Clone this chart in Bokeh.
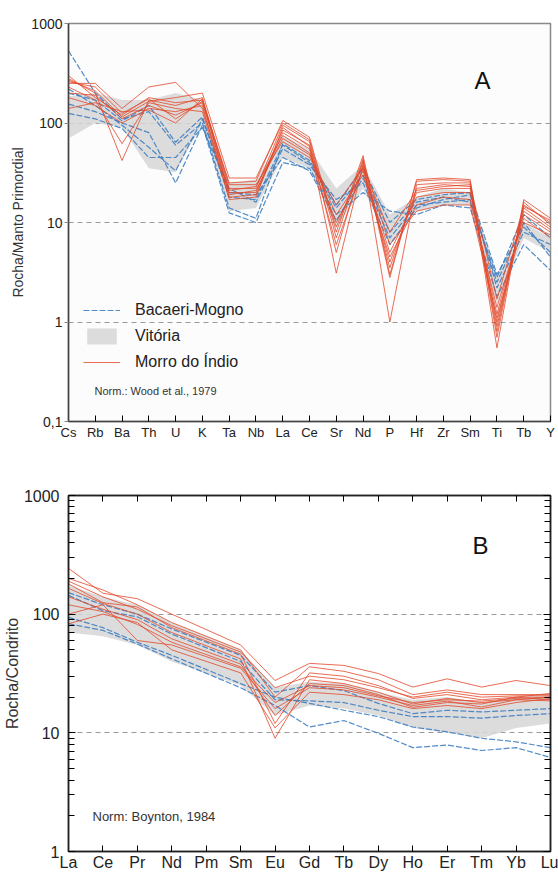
from bokeh.plotting import figure
from bokeh.models import FixedTicker, Label, Legend, LegendItem, LogAxis, LinearAxis
from bokeh.layouts import column
from bokeh.embed import file_html
from bokeh.resources import INLINE

FONT = "Liberation Sans"

# ---------------- Panel A: spider diagram (primitive mantle) ----------------
spider_elements = ["Cs", "Rb", "Ba", "Th", "U", "K", "Ta", "Nb", "La", "Ce",
                   "Sr", "Nd", "P", "Hf", "Zr", "Sm", "Ti", "Tb", "Y"]

vitoria_a_low = [70, 100, 90, 35, 32, 100, 13, 14, 45, 35, 9, 22, 6, 13, 15, 15, 1.5, 7, 5]
vitoria_a_high = [185, 200, 170, 170, 200, 170, 25, 27, 75, 55, 22, 38, 12, 18, 22, 20, 3.0, 10, 7]

bacaeri_a = [
    [530, 200, 110, 130, 60, 100, 14, 11, 62, 42, 15, 35, 10, 17, 19, 20, 3.0, 9, 5],
    [220, 150, 95, 57, 33, 110, 20, 19, 45, 33, 10.5, 28, 7, 15, 16, 17, 2.5, 10, 4.5],
    [155, 130, 100, 80, 25, 95, 12.5, 10, 40, 35, 12, 20, 13, 12, 15, 14, 1.8, 6, 3.3],
    [125, 110, 88, 45, 45, 90, 22, 16, 55, 38, 17, 25, 6, 14, 17, 19, 2.2, 8, 6],
    [200, 170, 105, 150, 64, 115, 18, 17, 60, 40, 14, 30, 8, 16, 18, 16, 2.8, 12, 7],
]

morro_a = [
    [300, 180, 120, 180, 160, 170, 25, 26, 106, 72, 8, 47, 3, 26, 27, 26, 0.55, 17, 11],
    [280, 200, 42, 170, 150, 180, 22, 22, 95, 65, 5, 42, 1.0, 24, 25, 25, 0.8, 15, 10],
    [250, 250, 140, 230, 256, 140, 20, 20, 85, 60, 3.1, 38, 3.5, 22, 24, 23, 0.9, 14, 9],
    [230, 170, 62, 160, 140, 130, 18, 19, 80, 55, 6, 35, 4, 20, 22, 22, 1.0, 13, 8.5],
    [200, 190, 110, 150, 120, 160, 21, 23, 75, 50, 10, 33, 5, 18, 20, 20, 1.2, 12, 8],
    [140, 160, 130, 135, 100, 175, 19, 21, 70, 48, 12, 30, 4.5, 15, 18, 17, 1.4, 11, 7],
    [270, 210, 115, 165, 180, 200, 28, 28, 100, 68, 7, 44, 2.8, 27, 28, 27, 0.7, 16, 9.5],
    [180, 150, 100, 140, 130, 150, 17, 18, 90, 58, 9, 40, 6, 13, 15, 15, 1.1, 10, 7.5],
    [260, 230, 125, 175, 110, 165, 24, 24, 65, 45, 15, 36, 8, 21, 23, 24, 1.7, 14.5, 10.5],
]

# ---------------- Panel B: REE (chondrite) ----------------
ree_elements = ["La", "Ce", "Pr", "Nd", "Pm", "Sm", "Eu", "Gd", "Tb",
                "Dy", "Ho", "Er", "Tm", "Yb", "Lu"]
ree_measured = ["La", "Ce", "Pr", "Nd", "Sm", "Eu", "Gd", "Tb",
                "Dy", "Ho", "Er", "Tm", "Yb", "Lu"]

vitoria_b_low = [70, 65, 55, 40, 25, 14, 17, 16, 14, 11, 10, 9, 11, 12]
vitoria_b_high = [175, 140, 120, 85, 50, 24, 27, 26, 22, 19, 20, 18, 20, 21]

bacaeri_b = [
    [152, 120, 100, 75, 45, 22, 25, 22.7, 17.7, 14.5, 15.5, 15, 15.5, 16],
    [144, 107, 95, 68, 40, 19, 18.6, 18, 15.5, 13.7, 13.7, 13.3, 14, 14.5],
    [94, 77, 58, 45, 26, 20, 17.7, 15.5, 13.7, 11.2, 10.2, 9, 8.4, 7.5],
    [83, 73, 56, 42, 24, 17, 11.2, 12.7, 9.9, 7.5, 7.9, 7.1, 7.5, 6.2],
]

morro_b = [
    [243, 150, 135, 100, 55, 27.6, 38.5, 37, 31.6, 24.3, 28.5, 24.3, 27.6, 25],
    [200, 160, 120, 85, 50, 20, 36, 33, 28, 21, 23, 21, 21, 21],
    [180, 125, 115, 77, 46, 12, 32, 30, 25, 19.5, 21, 19, 20, 21.5],
    [165, 123, 100, 70, 42, 9, 28, 26, 22, 17.5, 19.5, 18, 19, 20],
    [140, 110, 90, 62, 38, 14, 26, 25, 21, 16.4, 18, 17.5, 20, 19],
    [100, 120, 60, 55, 35, 16, 24, 23, 20, 17, 18.5, 16.5, 19, 18.6],
    [83, 100, 85, 50, 32, 11, 22, 21, 19, 16, 17, 16, 18, 19.5],
    [120, 105, 82, 58, 36, 18, 25, 24, 20.5, 18, 19, 18.5, 19.5, 20],
    [190, 140, 110, 80, 48, 24, 30, 28, 24, 20, 22, 20, 20.5, 20.5],
]

BLUE = "#3f7fc1"
RED = "#e2492a"
BAND = "#d6d6d6"

# ================= Figure A =================
xa = list(range(len(spider_elements)))
pA = figure(width=558, height=445, x_range=(0, len(spider_elements) - 1),
            y_range=(0.1, 1000), y_axis_type="log",
            output_backend="svg", toolbar_location=None,
            min_border_left=64, min_border_right=8, min_border_top=23, min_border_bottom=24)
pA.background_fill_color = "#fcfcfc"
pA.outline_line_color = "#888888"
pA.outline_line_width = 1.5

band_a = pA.varea(x=xa, y1=vitoria_a_low, y2=vitoria_a_high, fill_color=BAND, fill_alpha=0.85)
blue_a = []
for s in bacaeri_a:
    blue_a.append(pA.line(xa, s, line_color=BLUE, line_width=1.2, line_dash="6 2", line_alpha=0.9))
red_a = []
for s in morro_a:
    red_a.append(pA.line(xa, s, line_color=RED, line_width=1.0, line_alpha=0.8))

pA.xaxis.ticker = FixedTicker(ticks=xa)
pA.xaxis.major_label_overrides = {i: e for i, e in enumerate(spider_elements)}
pA.xaxis.major_tick_in = 6
pA.xaxis.major_tick_out = 0
pA.xaxis.minor_tick_line_color = None
pA.xaxis.major_label_standoff = 3
pA.xaxis.major_label_text_font = FONT
pA.xaxis.major_label_text_font_size = "13px"
pA.xaxis.major_label_text_color = "#222222"
pA.xaxis.axis_line_color = "#444444"
pA.xaxis.axis_line_width = 1.5

pA.yaxis.ticker = FixedTicker(ticks=[0.1, 1, 10, 100, 1000])
pA.yaxis.major_label_overrides = {0.1: "0,1", 1: "1", 10: "10", 100: "100", 1000: "1000"}
pA.yaxis.major_tick_in = 0
pA.yaxis.major_tick_out = 4
pA.yaxis.major_tick_line_color = "#888888"
pA.yaxis.minor_tick_line_color = None
pA.yaxis.major_label_standoff = 2
pA.yaxis.major_label_text_font = FONT
pA.yaxis.major_label_text_font_size = "14px"
pA.yaxis.major_label_text_color = "#222222"
pA.yaxis.axis_line_color = "#444444"
pA.yaxis.axis_line_width = 1.5
pA.yaxis.axis_label = "Rocha/Manto Primordial"
pA.yaxis.axis_label_standoff = 2
pA.yaxis.axis_label_text_font = FONT
pA.yaxis.axis_label_text_font_size = "14px"
pA.yaxis.axis_label_text_font_style = "normal"
pA.yaxis.axis_label_text_color = "#333333"

pA.xgrid.grid_line_color = None
pA.ygrid.ticker = FixedTicker(ticks=[1, 10, 100])
pA.ygrid.grid_line_color = "#999999"
pA.ygrid.grid_line_dash = "5 4"
pA.ygrid.grid_line_width = 1

pA.add_layout(Label(x=414, y=341, x_units="screen", y_units="screen", text="A",
                    text_align="center", text_baseline="middle",
                    text_font=FONT, text_font_size="24px", text_color="#111111"))
pA.add_layout(Label(x=26, y=31, x_units="screen", y_units="screen",
                    text="Norm.: Wood et al., 1979",
                    text_align="left", text_baseline="middle",
                    text_font=FONT, text_font_size="11px", text_color="#333333"))

legend = Legend(items=[
    LegendItem(label="Bacaeri-Mogno", renderers=[blue_a[0]]),
    LegendItem(label="Vitória", renderers=[band_a]),
    LegendItem(label="Morro do Índio", renderers=[red_a[0]]),
], location=(15, 49), glyph_width=37, glyph_height=20, label_standoff=15,
    spacing=6, padding=0, margin=0, border_line_alpha=0, background_fill_alpha=0,
    label_text_font=FONT, label_text_font_size="16px", label_text_color="#222222")
pA.add_layout(legend)

# ================= Figure B =================
xb = [ree_elements.index(e) for e in ree_measured]
pB = figure(width=558, height=428, x_range=(0, len(ree_elements) - 1),
            y_range=(1, 1000), y_axis_type="log",
            output_backend="svg", toolbar_location=None,
            min_border_left=65, min_border_right=7, min_border_top=50, min_border_bottom=22)
pB.background_fill_color = "#ffffff"
pB.outline_line_color = "#222222"
pB.outline_line_width = 1.5

pB.varea(x=xb, y1=vitoria_b_low, y2=vitoria_b_high, fill_color=BAND, fill_alpha=0.85)
for s in bacaeri_b:
    pB.line(xb, s, line_color=BLUE, line_width=1.2, line_dash="6 2", line_alpha=0.9)
for s in morro_b:
    pB.line(xb, s, line_color=RED, line_width=1.0, line_alpha=0.8)

xb_ticks = list(range(len(ree_elements)))
pB.xaxis.ticker = FixedTicker(ticks=xb_ticks)
pB.xaxis.major_label_overrides = {i: e for i, e in enumerate(ree_elements)}
pB.xaxis.major_tick_in = 6
pB.xaxis.major_tick_out = 0
pB.xaxis.minor_tick_line_color = None
pB.xaxis.major_label_standoff = 2
pB.xaxis.major_label_text_font = FONT
pB.xaxis.major_label_text_font_size = "16px"
pB.xaxis.major_label_text_color = "#222222"
pB.xaxis.axis_line_color = "#222222"
pB.xaxis.axis_line_width = 1.5

minor_b = [k * 10 ** d for d in range(3) for k in range(2, 10)]
pB.yaxis.ticker = FixedTicker(ticks=[1, 10, 100, 1000], minor_ticks=minor_b)
pB.yaxis.major_label_overrides = {1: "1", 10: "10", 100: "100", 1000: "1000"}
pB.yaxis.major_tick_in = 7
pB.yaxis.major_tick_out = 0
pB.yaxis.minor_tick_in = 6
pB.yaxis.minor_tick_out = 0
pB.yaxis.major_label_standoff = 9
pB.yaxis.major_label_text_font = FONT
pB.yaxis.major_label_text_font_size = "16px"
pB.yaxis.major_label_text_color = "#222222"
pB.yaxis.axis_line_color = "#222222"
pB.yaxis.axis_line_width = 1.5
pB.yaxis.axis_label = "Rocha/Condrito"
pB.yaxis.axis_label_standoff = 0
pB.yaxis.axis_label_text_font = FONT
pB.yaxis.axis_label_text_font_size = "16px"
pB.yaxis.axis_label_text_font_style = "normal"
pB.yaxis.axis_label_text_color = "#333333"

right_axis = LogAxis(ticker=FixedTicker(ticks=[1, 10, 100, 1000], minor_ticks=minor_b),
                     major_label_text_color=None, major_label_standoff=0,
                     major_tick_in=7, major_tick_out=0, minor_tick_in=6, minor_tick_out=0,
                     axis_line_color="#222222", axis_line_width=1.5)
pB.add_layout(right_axis, "right")
top_axis = LinearAxis(ticker=FixedTicker(ticks=xb_ticks),
                      major_label_text_color=None, major_label_standoff=0,
                      major_tick_in=6, major_tick_out=0, minor_tick_line_color=None,
                      axis_line_color="#222222", axis_line_width=1.5)
pB.add_layout(top_axis, "above")

pB.xgrid.grid_line_color = None
pB.ygrid.ticker = FixedTicker(ticks=[10, 100])
pB.ygrid.grid_line_color = "#999999"
pB.ygrid.grid_line_dash = "5 4"
pB.ygrid.grid_line_width = 1

pB.add_layout(Label(x=412, y=306, x_units="screen", y_units="screen", text="B",
                    text_align="center", text_baseline="middle",
                    text_font=FONT, text_font_size="24px", text_color="#111111"))
pB.add_layout(Label(x=24, y=35, x_units="screen", y_units="screen",
                    text="Norm: Boynton, 1984",
                    text_align="left", text_baseline="middle",
                    text_font=FONT, text_font_size="13px", text_color="#333333"))

layout = column(pA, pB, spacing=0)
open("out.html", "w").write(file_html(layout, INLINE))
